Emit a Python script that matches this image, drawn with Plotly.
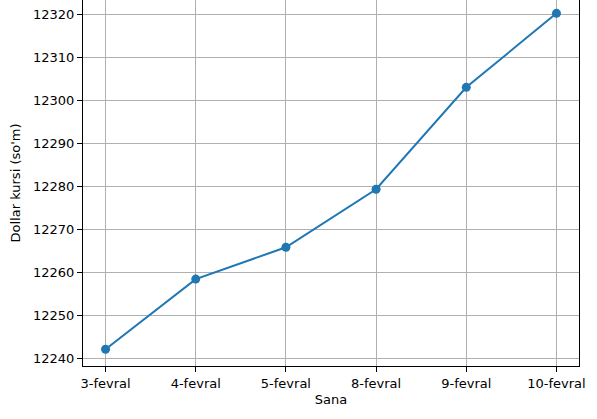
import plotly.graph_objects as go

# Dollar kursi, fevral kunlari bo'yicha
DATES = ["3-fevral", "4-fevral", "5-fevral", "8-fevral", "9-fevral", "10-fevral"]
RATES = [12242.1, 12258.4, 12265.8, 12279.3, 12303.0, 12320.2]
Y_TICKS = [12240, 12250, 12260, 12270, 12280, 12290, 12300, 12310, 12320]

LINE_BLUE = "#1f77b4"
GRID_GRAY = "#b0b0b0"
FONT = "DejaVu Sans, sans-serif"

fig = go.Figure(
    go.Scatter(
        x=DATES,
        y=RATES,
        mode="lines+markers",
        line=dict(color=LINE_BLUE, width=2),
        marker=dict(color=LINE_BLUE, size=9),
    )
)

fig.update_layout(
    width=597,
    height=419,
    margin=dict(l=83, r=18, t=0, b=53),
    plot_bgcolor="white",
    paper_bgcolor="white",
    font=dict(family=FONT, size=13, color="black"),
    showlegend=False,
)

fig.update_xaxes(
    type="category",
    range=[-0.25, 5.25],
    automargin=False,
    showline=True,
    linecolor="black",
    linewidth=1,
    mirror=False,
    ticks="outside",
    ticklen=5,
    tickcolor="black",
    tickfont=dict(size=13),
    showgrid=True,
    gridcolor=GRID_GRAY,
    gridwidth=1,
    title=dict(text="Sana", standoff=5, font=dict(size=13)),
)

fig.update_yaxes(
    range=[12238.2, 12323.3],
    tickvals=Y_TICKS,
    ticktext=[str(v) for v in Y_TICKS],
    automargin=False,
    ticklabeloverflow="allow",
    showline=True,
    linecolor="black",
    linewidth=1,
    mirror=True,
    ticks="outside",
    ticklen=5,
    tickcolor="black",
    tickfont=dict(size=13),
    showgrid=True,
    gridcolor=GRID_GRAY,
    gridwidth=1,
    zeroline=False,
    title=dict(text="Dollar kursi (so'm)", standoff=9, font=dict(size=13)),
)

# body'ning standart 8px chekkasini olib tashlash
fig.write_html(
    "out.html",
    config={"displayModeBar": False},
    post_script="document.body.style.margin = '0';",
)
